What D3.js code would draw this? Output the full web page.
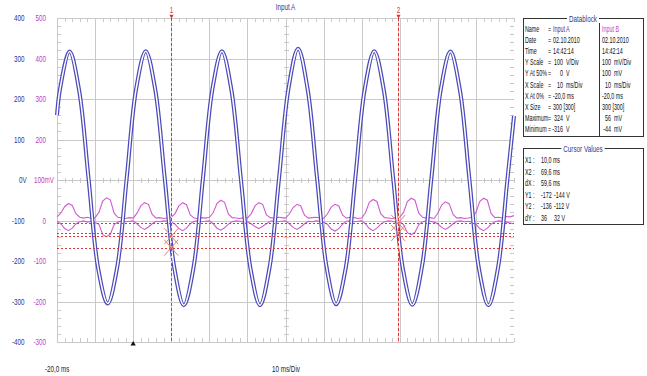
<!DOCTYPE html>
<html>
<head>
<meta charset="utf-8">
<script src="https://cdn.jsdelivr.net/npm/d3@7"></script>
<style>
  body { margin: 0; background: #fff; }
  svg { display: block; }
  text { font-family: "Liberation Sans", Arial, sans-serif; font-size: 8.5px; }
</style>
</head>
<body>
<div id="chart"></div>
<script>
// Input A (V), read at peaks, troughs, zero crossings and half-way points
const timeA = [-20, -19.2, -16.7, -14.2, -11.7, -9.2, -6.7, -4.2, -1.7, 0.8, 3.3, 5.8, 8.3, 10.8, 13.3, 15.8,
  18.3, 20.8, 23.3, 25.8, 28.3, 30.8, 33.3, 35.8, 38.3, 40.8, 43.3, 45.8, 48.3, 50.8, 53.3, 55.8,
  58.3, 60.8, 63.3, 65.8, 68.3, 70.8, 73.3, 75.8, 78.3, 80.8, 83.3, 85.8, 88.3, 90.8, 93.3, 95.8, 98.3, 100];
const inputA = [160, 225, 317, 222, 2, -218, -305, -216, 4, 226, 318, 223, 3, -217, -309, -219,
  2, 224, 318, 222, 1, -218, -309, -217, 4, 227, 324, 225, 3, -216, -307, -218,
  2, 224, 318, 223, 2, -218, -308, -216, 3, 225, 317, 222, 1, -219, -309, -217, 4, 158];

// Input B (mV), max and min envelope, one value per ms from -20 ms
const startB = -20;
const stepB = 1;
const inputBMax = [9, 18, 34, 42, 37, 16, 8, 6, 8, 5, 7, 20, 48, 56, 51, 18, 8, 6, 5, 7,
  6, 18, 36, 44, 40, 15, 6, 7, 5, 6, 8, 17, 36, 44, 39, 14, 6, 5, 7, 6,
  8, 19, 42, 50, 45, 16, 7, 6, 5, 7, 6, 17, 36, 44, 40, 14, 7, 6, 8, 7,
  6, 16, 32, 40, 36, 13, 6, 7, 8, 6, 5, 16, 33, 40, 36, 13, 6, 8, 7, 5,
  6, 19, 45, 52, 47, 17, 7, 6, 5, 7, 8, 20, 47, 55, 50, 18, 8, 6, 7, 5,
  18, 38, 46, 41, 15, 6, 7, 5, 6, 8, 20, 47, 55, 50, 17, 7, 8, 6, 10, 9, 12];
const inputBMin = [-2, -8, -20, -25, -19, -8, -3, -1, -4, -2, -5, -9, -35, -40, -34, -10, -4, -1, -3, -2,
  -1, -8, -17, -22, -16, -8, -2, -3, -1, -2, -4, -9, -20, -25, -19, -8, -2, -1, -3, -2,
  -1, -8, -19, -24, -18, -9, -3, -1, -2, -4, -3, -8, -15, -20, -14, -8, -2, -1, -3, -2,
  -1, -8, -17, -22, -16, -8, -2, -3, -1, -2, -4, -9, -21, -26, -20, -9, -2, -1, -3, -2,
  -1, -8, -20, -25, -19, -9, -3, -1, -2, -4, -3, -10, -30, -35, -29, -10, -3, -1, -2, -4,
  -8, -17, -22, -16, -8, -2, -1, -3, -2, -4, -9, -20, -25, -19, -9, -3, -1, -2, -4, -6, -8];

// axis ticks
const aTicks = [400, 300, 200, 100, 0, -100, -200, -300, -400];
const aUnits = ['', '', '', '', 'V', '', '', '', ''];
const bTicks = [500, 400, 300, 200, 100, 0, -100, -200, -300];
const bUnits = ['', '', '', '', 'mV', '', '', '', ''];
const timeTicks = [-20, -10, 0, 10, 20, 30, 40, 50, 60, 70, 80, 90];

// cursors
const cursorTimes = [10.0, 69.6];
const cursorNames = ['1', '2'];
const cursorLevels = [[-139, -167], [-106, -131]];
const triggerTime = 0;

// datablock
const dbLabels = ['Name', 'Date', 'Time', 'Y Scale', 'Y At 50%', 'X Scale', 'X At 0%', 'X Size', 'Maximum', 'Minimum'];
const dbA = ['Input A', '02.10.2010', '14:42:14', '100', '0', '10', '-20,0 ms', '300 [300]', '324', '-316'];
const dbAUnits = ['', '', '', 'V/Div', 'V', 'ms/Div', '', '', 'V', 'V'];
const dbB = ['Input B', '02.10.2010', '14:42:14', '100', '100', '10', '-20,0 ms', '300 [300]', '56', '-44'];
const dbBUnits = ['', '', '', 'mV/Div', 'mV', 'ms/Div', '', '', 'mV', 'mV'];

const cvLabels = ['X1 :', 'X2 :', 'dX :', 'Y1 :', 'Y2 :', 'dY :'];
const cvA = ['10,0 ms', '69,6 ms', '59,6 ms', '-172', '-136', '36'];
const cvB = ['', '', '', '-144 V', '-112 V', '32 V'];

const blue = '#4a4ab8';
const blueText = '#34348e';
const magenta = '#d25ad2';
const magentaText = '#c23cc2';
const red = '#d83838';
const grid = '#c9c9c9';

// the screen font is narrow: squeeze text horizontally
const at = (tx, ty, s = 0.74) => `translate(${tx},${ty}) scale(${s},1)`;
const sq = 0.63;

const svg = d3.select('#chart').append('svg')
  .attr('width', 647)
  .attr('height', 376);

const x = d3.scaleLinear().domain([-20, 100]).range([57, 514]);
const yA = d3.scaleLinear().domain([-400, 400]).range([342, 18]);
const yB = d3.scaleLinear().domain([-300, 500]).range([342, 18]);
const px = v => Math.round(v) + 0.5;

// grid
svg.append('g')
  .attr('shape-rendering', 'crispEdges')
  .call(g => g.selectAll('line').data(timeTicks).join('line')
    .attr('x1', d => px(x(d))).attr('x2', d => px(x(d)))
    .attr('y1', 18).attr('y2', 342).attr('stroke', grid))
  .call(g => g.selectAll('line.h').data(aTicks).join('line').attr('class', 'h')
    .attr('y1', d => px(yA(d))).attr('y2', d => px(yA(d)))
    .attr('x1', 57).attr('x2', 514).attr('stroke', grid));

// minor ticks
const minorT = d3.range(-20, 100.1, 2);
const minorV = d3.range(-400, 400.1, 20);
const ticks = svg.append('g').attr('stroke', grid).attr('shape-rendering', 'crispEdges');
ticks.selectAll('.mt').data(minorT).join('line')
  .attr('x1', d => px(x(d))).attr('x2', d => px(x(d)))
  .attr('y1', 18).attr('y2', 22);
ticks.selectAll('.mb').data(minorT).join('line')
  .attr('x1', d => px(x(d))).attr('x2', d => px(x(d)))
  .attr('y1', 338).attr('y2', 342);
ticks.selectAll('.mc').data(minorT).join('line')
  .attr('x1', d => px(x(d))).attr('x2', d => px(x(d)))
  .attr('y1', yA(0) - 2).attr('y2', yA(0) + 3);
ticks.selectAll('.ml').data(minorV).join('line')
  .attr('y1', d => px(yA(d))).attr('y2', d => px(yA(d)))
  .attr('x1', 57).attr('x2', 61);
ticks.selectAll('.mr').data(minorV).join('line')
  .attr('y1', d => px(yA(d))).attr('y2', d => px(yA(d)))
  .attr('x1', 510).attr('x2', 514);
ticks.selectAll('.mm').data(minorV).join('line')
  .attr('y1', d => px(yA(d))).attr('y2', d => px(yA(d)))
  .attr('x1', x(40) - 2).attr('x2', x(40) + 3);

// left labels
svg.append('g').selectAll('text').data(aTicks).join('text')
  .attr('transform', (d, i) => at(aUnits[i] ? 22.5 : 24.5, yA(d) + 3))
  .attr('text-anchor', 'end').attr('fill', blueText)
  .text(d => d);
svg.append('g').selectAll('text').data(aTicks.filter((d, i) => aUnits[i])).join('text')
  .attr('transform', d => at(22.5, yA(d) + 3))
  .attr('fill', blueText).text('V');
svg.append('g').selectAll('text').data(bTicks).join('text')
  .attr('transform', (d, i) => at(bUnits[i] ? 44.5 : 46, yB(d) + 3))
  .attr('text-anchor', 'end').attr('fill', magentaText)
  .text(d => d);
svg.append('g').selectAll('text').data(bTicks.filter((d, i) => bUnits[i])).join('text')
  .attr('transform', d => at(44.5, yB(d) + 3))
  .attr('fill', magentaText).text('mV');

// bottom labels
svg.append('text').attr('transform', at(45, 372)).attr('fill', '#222').text('-20,0 ms');
svg.append('text').attr('transform', at(272, 372)).attr('fill', '#222').text('10 ms/Div');
svg.append('text').attr('transform', at(x(40), 10)).attr('text-anchor', 'middle').attr('fill', blueText).text('Input A');

svg.append('path')
  .attr('d', d3.symbol(d3.symbolTriangle).size(12)())
  .attr('transform', `translate(${x(triggerTime)},344)`)
  .attr('fill', '#111');

// Input B traces
const lineB = d3.line()
  .x((d, i) => x(startB + i * stepB))
  .y(d => yB(d));
[inputBMax, inputBMin].forEach(s => {
  svg.append('path').datum(s)
    .attr('fill', 'none').attr('stroke', magenta).attr('stroke-width', 1.1)
    .attr('d', lineB);
});

// Input A trace (double line)
const lineA = d3.line()
  .x((d, i) => x(timeA[i]))
  .y(d => yA(d))
  .curve(d3.curveCatmullRom);
svg.append('path').datum(inputA)
  .attr('fill', 'none').attr('stroke', blue).attr('stroke-width', 4)
  .attr('d', lineA);
svg.append('path').datum(inputA)
  .attr('fill', 'none').attr('stroke', '#fff').attr('stroke-width', 1.5)
  .attr('d', lineA);

// cursor levels
svg.append('g').selectAll('line').data(cursorLevels.flat()).join('line')
  .attr('x1', 57).attr('x2', 514)
  .attr('y1', d => px(yA(d))).attr('y2', d => px(yA(d)))
  .attr('shape-rendering', 'crispEdges')
  .attr('stroke', red).attr('stroke-width', 1).attr('stroke-dasharray', '2,2');

// cursor verticals
const cur = svg.append('g').selectAll('g').data(cursorTimes).join('g');
cur.append('line')
  .attr('x1', d => px(x(d))).attr('x2', d => px(x(d)))
  .attr('y1', 18).attr('y2', 342)
  .attr('shape-rendering', 'crispEdges')
  .attr('stroke', '#f2c4c4').attr('stroke-width', 1);
cur.append('line')
  .attr('x1', d => px(x(d))).attr('x2', d => px(x(d)))
  .attr('y1', 18).attr('y2', 342)
  .attr('shape-rendering', 'crispEdges')
  .attr('stroke', red).attr('stroke-width', 1).attr('stroke-dasharray', '3,2');
cur.append('text')
  .attr('transform', d => at(px(x(d)), 13))
  .attr('text-anchor', 'middle')
  .attr('fill', red)
  .text((d, i) => cursorNames[i]);
cur.append('path')
  .attr('d', d3.symbol(d3.symbolTriangle).size(8)())
  .attr('transform', d => `translate(${px(x(d))},16) rotate(180)`)
  .attr('fill', red);
cur.each(function (d, i) {
  d3.select(this).selectAll('path.x').data(cursorLevels[i]).join('path')
    .attr('class', 'x')
    .attr('d', v => `M${x(d) - 7},${yA(v) - 8}L${x(d) + 7},${yA(v) + 8}M${x(d) - 7},${yA(v) + 8}L${x(d) + 7},${yA(v) - 8}`)
    .attr('stroke', '#e8825e').attr('stroke-width', 1).attr('fill', 'none');
});

// datablock
function groupBox(x0, y0, w, h, title) {
  const g = svg.append('g');
  g.append('rect').attr('x', x0 + 0.5).attr('y', y0 + 0.5).attr('width', w).attr('height', h)
    .attr('fill', '#fff').attr('stroke', '#333');
  const t = g.append('text').attr('transform', at(x0 + w / 2, y0 + 3.5))
    .attr('text-anchor', 'middle').attr('fill', blueText).text(title);
  const bw = t.node().getComputedTextLength() * 0.74;
  g.insert('rect', 'text').attr('x', x0 + w / 2 - bw / 2 - 2).attr('y', y0 - 1).attr('width', bw + 4).attr('height', 3)
    .attr('fill', '#fff');
  return g;
}

const db = groupBox(523, 18, 120, 118, 'Datablock');
const rowY = i => 32 + i * 11.1;
db.append('line').attr('x1', 599.5).attr('x2', 599.5).attr('y1', 23).attr('y2', 136).attr('stroke', '#333');
db.selectAll('.lab').data(dbLabels).join('text')
  .attr('transform', (d, i) => at(525, rowY(i), sq)).attr('fill', '#111').text(d => d);
db.selectAll('.eq').data(dbLabels).join('text')
  .attr('transform', (d, i) => at(548, rowY(i), sq)).attr('fill', '#111').text('=');
db.selectAll('.va').data(dbA).join('text')
  .attr('transform', (d, i) => at(dbAUnits[i] ? 563 : 553, rowY(i), sq))
  .attr('text-anchor', (d, i) => dbAUnits[i] ? 'end' : 'start')
  .attr('fill', (d, i) => i === 0 ? blueText : '#111').text(d => d);
db.selectAll('.ua').data(dbAUnits).join('text')
  .attr('transform', (d, i) => at(566, rowY(i), sq)).attr('fill', '#111').text(d => d);
db.selectAll('.vb').data(dbB).join('text')
  .attr('transform', (d, i) => at(dbBUnits[i] ? 611 : 602, rowY(i), sq))
  .attr('text-anchor', (d, i) => dbBUnits[i] ? 'end' : 'start')
  .attr('fill', (d, i) => i === 0 ? magentaText : '#111').text(d => d);
db.selectAll('.ub').data(dbBUnits).join('text')
  .attr('transform', (d, i) => at(614, rowY(i), sq)).attr('fill', '#111').text(d => d);

const cv = groupBox(523, 148, 120, 76, 'Cursor Values');
const cvY = i => 163 + i * 11.5;
cv.selectAll('.lab').data(cvLabels).join('text')
  .attr('transform', (d, i) => at(525, cvY(i), sq)).attr('fill', '#111').text(d => d);
cv.selectAll('.va').data(cvA).join('text')
  .attr('transform', (d, i) => at(541, cvY(i), sq)).attr('fill', '#111').text(d => d);
cv.selectAll('.vb').data(cvB).join('text')
  .attr('transform', (d, i) => at(554, cvY(i), sq)).attr('fill', '#111').text(d => d);
</script>
</body>
</html>
